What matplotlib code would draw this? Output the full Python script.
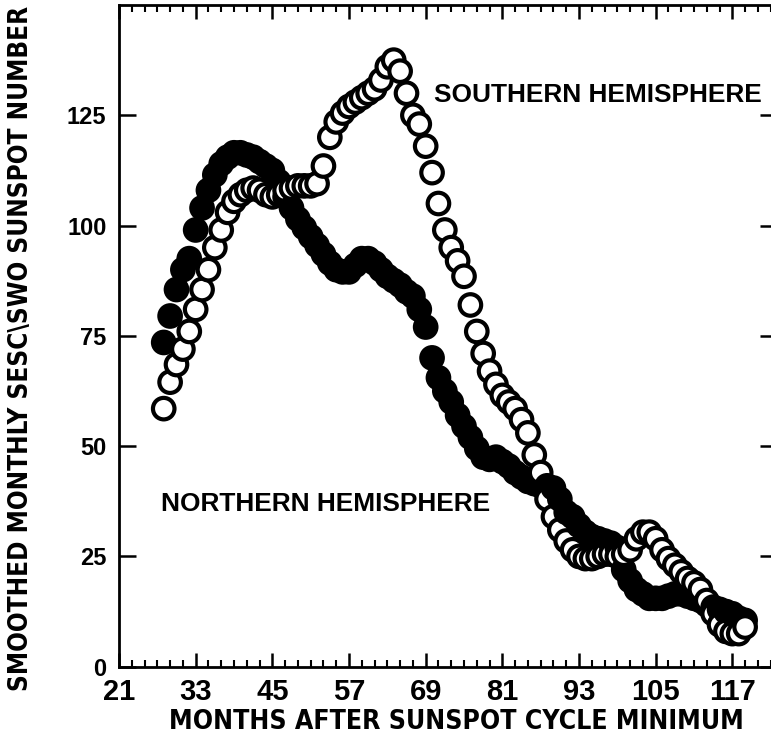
import matplotlib
matplotlib.use("Agg")
import matplotlib.pyplot as plt
from matplotlib import font_manager
import numpy as np

# Months after sunspot cycle minimum
months = list(range(28, 120))

# Southern hemisphere (open circles)
southern = [58.5, 64.5, 68.5, 72, 76, 81, 85.5, 90, 95, 99,          # 28-37
            103, 105.5, 107, 108, 108.5, 108, 107, 106.5, 107, 108,  # 38-47
            108.5, 109, 109, 109, 109.5, 113.5, 120, 123.5, 125.5, 127,  # 48-57
            128, 129, 130, 131, 133, 136, 137.5, 135, 130, 125,      # 58-67
            123, 118, 112, 105, 99, 95, 92, 88.5, 82, 76,            # 68-77
            71, 67, 64, 61.5, 60, 58.5, 56, 53, 48, 44,              # 78-87
            38, 34, 31, 28.5, 26.5, 25, 24.5, 24.5, 25, 25.5,        # 88-97
            25.5, 25, 25.5, 26.5, 29, 30.5, 30.5, 29, 26.5, 24.5,    # 98-107
            23, 21.5, 20, 19, 17.5, 15, 12, 9.5, 8, 7.5,             # 108-117
            7.5, 9]                                                  # 118-119

# Northern hemisphere (filled circles)
northern = [73.5, 79.5, 85.5, 90, 92.5, 99, 104, 108, 111.5, 114,    # 28-37
            115.5, 116.5, 116.5, 116, 115.5, 114.5, 113.5, 112.5, 110, 106.5,  # 38-47
            104, 101.5, 99.5, 97.5, 95.5, 93.5, 91.5, 90, 89.5, 89.5,  # 48-57
            91, 92.5, 92.5, 91.5, 90, 88.5, 87.5, 86.5, 85, 84,      # 58-67
            81, 77, 70, 65.5, 62.5, 60, 57, 54.5, 52, 49.5,          # 68-77
            47.5, 47, 47.5, 46.5, 45.5, 44, 43, 42, 41.5, 41,        # 78-87
            41, 40.5, 38, 35, 34, 32, 30.5, 29.5, 29, 28.5,          # 88-97
            28, 27, 22, 19.5, 17.5, 16.5, 15.5, 15.5, 15.5, 16,      # 98-107
            16.5, 16.5, 16, 15.5, 15, 14, 13.5, 13, 12.5, 12,        # 108-117
            11, 10.5]                                                # 118-119

x_ticks = [21, 33, 45, 57, 69, 81, 93, 105, 117]
y_ticks = [0, 25, 50, 75, 100, 125]

# pick a condensed bold face for the axis titles if one is installed
def condensed_bold():
    best = None
    for f in font_manager.fontManager.ttflist:
        nm = f.name.lower()
        st = str(f.stretch).lower()
        is_cond = ("narrow" in nm or "condensed" in nm or
                   st in ("condensed", "semi-condensed", "extra-condensed"))
        w = f.weight if isinstance(f.weight, int) else (700 if "bold" in str(f.weight) else 400)
        if is_cond and 600 <= w <= 800 and "mono" not in nm and "serif" not in nm:
            if best is None or "liberation" in nm:
                best = f.fname
    return best

cond_path = condensed_bold()
if cond_path:
    label_fp = font_manager.FontProperties(fname=cond_path)
else:
    label_fp = font_manager.FontProperties(family="Liberation Sans", weight="bold")

W, H = 771, 736
fig = plt.figure(figsize=(W / 100, H / 100), dpi=100)
ax = fig.add_axes([119 / W, (H - 666.7) / H, 103 * 6.389 / W, 661.7 / H])

# interleave by month so overlaps stack like the original plot
xs, ys, fcs = [], [], []
for m, n, s in zip(months, northern, southern):
    xs += [m, m]
    ys += [n, s]
    fcs += ["black", "white"]
ax.scatter(xs, ys, s=240, facecolors=fcs, edgecolors="black",
           linewidths=3.0, zorder=3, clip_on=False)

ax.set_xlim(21, 124)
ax.set_ylim(0, 150)
ax.set_xticks(x_ticks)
ax.set_xticks(np.arange(21, 124, 2), minor=True)
ax.set_yticks(y_ticks)

for sp in ax.spines.values():
    sp.set_linewidth(2.0)

ax.tick_params(axis="x", which="major", direction="in", length=10, width=1.8,
               top=True, bottom=True, pad=8)
ax.tick_params(axis="x", which="minor", direction="in", length=5, width=1.5,
               top=True, bottom=True)
ax.tick_params(axis="y", which="major", direction="in", length=12, width=1.8,
               left=True, right=True, pad=9)

for lab in ax.get_xticklabels():
    lab.set_fontfamily("Liberation Sans")
    lab.set_fontweight("bold")
    lab.set_fontsize(21)
for lab in ax.get_yticklabels():
    lab.set_fontfamily("Liberation Sans")
    lab.set_fontweight("bold")
    lab.set_fontsize(17)

xl = fig.text(456 / W, 1 - 729 / H, "MONTHS AFTER SUNSPOT CYCLE MINIMUM",
              fontproperties=label_fp, fontsize=22, ha="center", va="baseline")
yl = fig.text(21 / W, 1 - 348 / H, "SMOOTHED MONTHLY SESC\\SWO SUNSPOT NUMBER",
              fontproperties=label_fp, fontsize=22, ha="center", va="center",
              rotation=90)

t1 = ax.text(70.3, 128.1, "SOUTHERN HEMISPHERE", family="Liberation Sans",
             fontweight="bold", fontsize=19, va="baseline", ha="left")
t2 = ax.text(27.6, 35.2, "NORTHERN HEMISPHERE", family="Liberation Sans",
             fontweight="bold", fontsize=19, va="baseline", ha="left")

# fit text sizes to the measured extents of the reference
renderer = fig.canvas.get_renderer()
for t, target, horiz in [(xl, 577, True), (yl, 685, False),
                         (t1, 328, True), (t2, 329, True)]:
    for _ in range(2):
        bb = t.get_window_extent(renderer)
        size = bb.width if horiz else bb.height
        t.set_fontsize(t.get_fontsize() * target / size)

fig.savefig("out.png", dpi=100)
